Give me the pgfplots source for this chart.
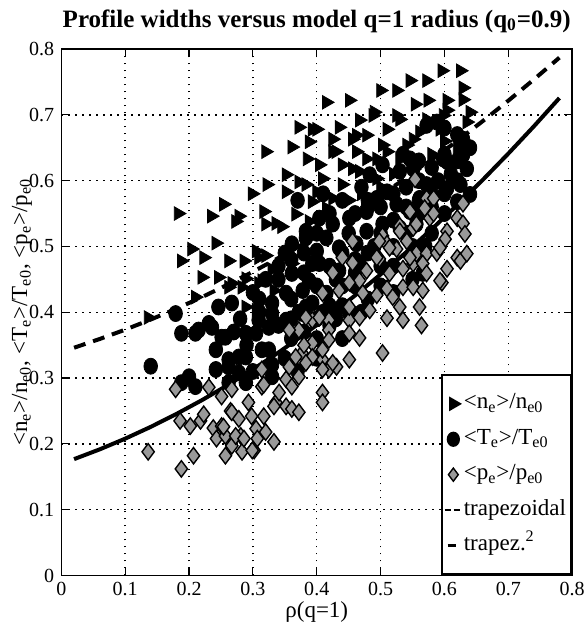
\documentclass[border=0pt]{standalone}
\usepackage{fontspec}
\setmainfont{Liberation Serif}
\usepackage{pgfplots}
\pgfplotsset{compat=1.18}
\pgfplotsset{
  markleg/.style={legend image code/.code={\draw[##1, mark size=3.3pt] plot coordinates {(0.18cm,0cm)};}},
  dashleg/.style={legend image code/.code={\draw[black, line width=1.1pt, dash pattern=on 3pt off 1.4pt] (0.8pt,0pt) -- (8.2pt,0pt);}},
  solidleg/.style={legend image code/.code={\draw[black, line width=1.1pt] (2.2pt,0pt) -- (6.2pt,0pt);}},
}
\begin{document}
\begin{tikzpicture}
\begin{axis}[
  scale only axis, width=255.4pt, height=263.2pt,
  xmin=0, xmax=0.8, ymin=0, ymax=0.8,
  xtick={0,0.1,0.2,0.3,0.4,0.5,0.6,0.7,0.8},
  ytick={0,0.1,0.2,0.3,0.4,0.5,0.6,0.7,0.8},
  xticklabels={0,0.1,0.2,0.3,0.4,0.5,0.6,0.7,0.8},
  yticklabels={0,0.1,0.2,0.3,0.4,0.5,0.6,0.7,0.8},
  /pgf/number format/assume math mode=true,
  ticklabel style={font=\fontsize{10}{12}\selectfont},
  tick align=inside, major tick length=4pt,
  tick style={black, line width=0.6pt},
  axis line style={line width=0.8pt},
  grid=major,
  major grid style={black, line width=0.7pt, dash pattern=on 0.7pt off 2.8pt},
  title={Profile widths versus model q=1 radius (q\textsubscript{0}=0.9)},
  title style={font=\fontsize{12.5}{14}\selectfont\bfseries, at={(axis description cs:0.5,1)}, anchor=base, yshift=5pt},
  xlabel={ρ(q=1)},
  xlabel style={font=\fontsize{11.5}{14}\selectfont, at={(axis description cs:0.5,-0.069)}, anchor=center},
  ylabel={<n\textsubscript{e}>/n\textsubscript{e0}, <T\textsubscript{e}>/T\textsubscript{e0}, <p\textsubscript{e}>/p\textsubscript{e0}},
  ylabel style={font=\fontsize{11.5}{14}\selectfont, at={(axis description cs:-0.077,0.5)}, anchor=center},
  legend style={at={(1,0)}, anchor=south east, draw=black, line width=1pt, fill=white,
    font=\fontsize{11.5}{14}\selectfont, inner xsep=1pt, inner ysep=8pt, row sep=4.7pt,
    nodes={text height=8pt, text depth=3pt, inner ysep=1pt, inner xsep=1.6pt},
    cells={anchor=west}},
  legend cell align=left,
]
% <n_e>/n_e0 : right-pointing triangles
\addplot[only marks, mark=triangle*, mark size=3.9pt, mark options={rotate=-90, fill=black, draw=black}, markleg]
coordinates {
(0.32,0.644)(0.322,0.594)(0.299,0.58)(0.183,0.55)(0.254,0.564)(0.235,0.546)(0.278,0.546)(0.317,0.553)
(0.372,0.681)(0.393,0.678)(0.361,0.651)(0.388,0.659)(0.385,0.633)(0.352,0.609)(0.372,0.598)
(0.273,0.538)(0.336,0.535)(0.242,0.505)(0.204,0.496)(0.188,0.478)(0.223,0.483)(0.262,0.478)(0.286,0.478)
(0.309,0.483)(0.22,0.453)(0.246,0.453)(0.267,0.444)(0.289,0.451)(0.309,0.444)(0.136,0.392)(0.21,0.423)
(0.33,0.465)(0.361,0.474)(0.262,0.438)(0.283,0.438)(0.305,0.493)(0.32,0.486)(0.314,0.448)(0.333,0.433)
(0.305,0.403)(0.289,0.408)(0.32,0.534)(0.345,0.53)
(0.625,0.767)(0.596,0.767)(0.572,0.752)(0.546,0.752)(0.525,0.737)(0.5,0.737)(0.451,0.722)(0.415,0.719)
(0.629,0.741)(0.629,0.723)(0.604,0.722)(0.574,0.722)(0.554,0.716)(0.64,0.704)(0.604,0.707)(0.49,0.704)
(0.467,0.692)(0.435,0.681)(0.53,0.693)(0.51,0.678)(0.478,0.669)(0.456,0.663)(0.425,0.663)(0.425,0.644)
(0.462,0.644)(0.503,0.654)(0.561,0.674)(0.593,0.678)(0.572,0.693)(0.404,0.624)(0.44,0.624)(0.467,0.614)
(0.409,0.603)(0.383,0.594)(0.393,0.568)(0.415,0.558)(0.388,0.538)(0.44,0.594)(0.494,0.633)(0.53,0.633)
(0.551,0.663)(0.494,0.603)(0.635,0.689)(0.352,0.583)(0.367,0.549)(0.4,0.583)(0.425,0.573)(0.456,0.618)
(0.478,0.633)(0.51,0.644)(0.541,0.654)(0.4,0.678)(0.43,0.644)(0.462,0.669)(0.488,0.699)(0.525,0.699)
(0.598,0.699)(0.45,0.57)(0.47,0.58)(0.5,0.59)(0.52,0.61)(0.55,0.62)(0.58,0.64)(0.6,0.66)(0.62,0.65)
};
\addlegendentry{<n\textsubscript{e}>/n\textsubscript{e0}}
% <T_e>/T_e0 : filled circles
\addplot[only marks, mark=*, mark size=4pt, mark options={xscale=0.85, fill=black, draw=black}, markleg]
coordinates {
(0.14,0.318)(0.179,0.398)(0.188,0.368)(0.21,0.368)(0.231,0.383)(0.246,0.408)(0.267,0.414)(0.257,0.362)
(0.242,0.343)(0.262,0.328)(0.242,0.313)(0.289,0.332)(0.305,0.368)(0.325,0.377)(0.325,0.343)(0.278,0.308)
(0.2,0.302)(0.188,0.293)(0.21,0.287)(0.215,0.373)(0.236,0.377)(0.251,0.362)(0.262,0.317)(0.278,0.332)
(0.262,0.293)(0.289,0.293)(0.309,0.388)(0.33,0.398)(0.289,0.368)(0.314,0.343)(0.33,0.302)(0.352,0.388)
(0.372,0.4)
(0.629,0.663)(0.629,0.639)(0.635,0.618)(0.625,0.594)(0.604,0.629)(0.588,0.689)(0.64,0.579)(0.604,0.588)
(0.62,0.568)(0.572,0.594)(0.561,0.573)(0.546,0.553)(0.525,0.564)(0.51,0.583)(0.494,0.573)(0.478,0.553)
(0.451,0.543)(0.425,0.534)(0.404,0.543)(0.383,0.523)(0.415,0.513)(0.435,0.498)(0.462,0.504)(0.478,0.523)
(0.503,0.534)(0.53,0.528)(0.556,0.534)(0.467,0.474)(0.435,0.463)(0.404,0.474)(0.388,0.448)(0.415,0.429)
(0.393,0.414)(0.378,0.398)(0.503,0.624)(0.483,0.609)(0.53,0.614)(0.546,0.633)(0.361,0.459)(0.378,0.433)
(0.352,0.429)(0.33,0.414)(0.383,0.408)(0.393,0.474)(0.361,0.504)(0.383,0.513)(0.4,0.493)(0.598,0.633)
(0.572,0.684)(0.551,0.618)(0.535,0.64)
(0.45,0.52)(0.49,0.5)(0.52,0.5)(0.55,0.5)(0.58,0.52)(0.6,0.55)(0.43,0.45)(0.46,0.44)(0.5,0.47)(0.44,0.41)
(0.48,0.42)(0.42,0.38)(0.4,0.36)(0.44,0.36)(0.36,0.36)(0.35,0.33)(0.37,0.31)(0.4,0.33)(0.58,0.56)(0.59,0.6)
(0.61,0.61)(0.56,0.6)(0.52,0.58)(0.47,0.59)(0.44,0.57)(0.41,0.58)(0.37,0.57)(0.35,0.49)(0.34,0.45)(0.31,0.42)
(0.28,0.39)(0.3,0.31)(0.33,0.32)(0.47,0.4)(0.52,0.43)(0.55,0.45)(0.57,0.5)(0.566,0.459)
(0.36,0.42)(0.38,0.46)(0.4,0.44)(0.42,0.47)(0.44,0.49)(0.46,0.48)(0.48,0.49)(0.5,0.52)(0.52,0.54)(0.54,0.56)
(0.56,0.55)(0.48,0.56)(0.46,0.55)(0.42,0.55)(0.4,0.52)(0.38,0.49)(0.36,0.48)(0.34,0.47)(0.32,0.45)(0.3,0.43)
(0.34,0.38)(0.36,0.39)(0.38,0.37)(0.4,0.39)(0.42,0.41)(0.44,0.44)(0.46,0.46)(0.5,0.44)(0.52,0.47)(0.54,0.52)
(0.56,0.57)(0.58,0.58)(0.6,0.58)(0.62,0.6)(0.6,0.64)(0.58,0.62)(0.56,0.63)(0.54,0.59)(0.5,0.56)(0.48,0.57)
(0.62,0.63)(0.64,0.65)(0.6,0.68)(0.62,0.67)(0.43,0.39)(0.45,0.4)(0.41,0.4)(0.29,0.35)(0.27,0.37)(0.31,0.4)
};
\addlegendentry{<T\textsubscript{e}>/T\textsubscript{e0}}
% <p_e>/p_e0 : grey diamonds
\addplot[only marks, mark=diamond*, mark size=4.1pt, mark options={fill=black!40, draw=black, line width=0.7pt}, markleg]
coordinates {
(0.136,0.188)(0.188,0.162)(0.207,0.182)(0.179,0.283)(0.186,0.235)(0.202,0.227)(0.218,0.235)(0.223,0.245)
(0.231,0.286)(0.251,0.272)(0.267,0.283)(0.265,0.25)(0.238,0.224)(0.251,0.227)(0.243,0.208)(0.257,0.212)
(0.257,0.182)(0.267,0.197)(0.283,0.188)(0.281,0.212)(0.293,0.263)(0.298,0.242)(0.305,0.223)(0.302,0.19)
(0.317,0.242)(0.32,0.218)(0.333,0.203)(0.314,0.313)(0.314,0.287)(0.336,0.263)(0.352,0.257)(0.341,0.278)
(0.352,0.298)(0.357,0.317)(0.361,0.287)(0.372,0.302)(0.361,0.253)(0.372,0.248)(0.377,0.338)(0.393,0.353)
(0.372,0.373)(0.409,0.328)(0.419,0.313)(0.409,0.278)(0.409,0.263)(0.431,0.317)(0.451,0.328)(0.451,0.388)
(0.451,0.408)(0.419,0.388)(0.393,0.388)(0.357,0.373)
(0.254,0.226)(0.273,0.212)(0.267,0.248)(0.278,0.238)(0.286,0.208)(0.299,0.19)(0.307,0.208)(0.333,0.257)
(0.317,0.29)
(0.62,0.543)(0.604,0.523)(0.577,0.543)(0.551,0.528)(0.53,0.531)(0.503,0.516)(0.51,0.504)(0.525,0.496)
(0.541,0.508)(0.456,0.508)(0.44,0.483)(0.456,0.475)(0.478,0.463)(0.498,0.481)(0.514,0.459)(0.535,0.466)
(0.551,0.474)(0.556,0.489)(0.572,0.489)(0.588,0.49)(0.604,0.466)(0.596,0.445)(0.62,0.483)(0.425,0.46)
(0.467,0.448)(0.451,0.445)(0.472,0.429)(0.494,0.426)(0.51,0.436)(0.519,0.423)(0.535,0.438)(0.551,0.438)
(0.566,0.433)(0.53,0.408)(0.561,0.408)(0.535,0.388)(0.564,0.38)(0.51,0.391)(0.483,0.403)(0.467,0.392)
(0.451,0.368)(0.467,0.361)(0.419,0.373)(0.419,0.358)(0.404,0.392)(0.38,0.35)(0.409,0.343)(0.425,0.323)
(0.393,0.332)(0.383,0.323)(0.367,0.332)(0.409,0.313)(0.503,0.338)(0.409,0.429)(0.435,0.433)(0.593,0.448)
(0.383,0.392)
(0.554,0.602)(0.572,0.573)(0.583,0.573)(0.546,0.553)(0.569,0.558)(0.583,0.55)(0.629,0.565)(0.629,0.535)
(0.632,0.519)(0.601,0.511)(0.593,0.498)(0.625,0.478)(0.635,0.489)(0.556,0.534)(0.53,0.523)(0.498,0.508)
(0.494,0.483)(0.514,0.498)(0.566,0.474)(0.546,0.483)(0.572,0.459)
};
\addlegendentry{<p\textsubscript{e}>/p\textsubscript{e0}}
% trapezoidal (dashed)
\addplot[black, line width=2pt, dash pattern=on 6pt off 4pt, dashleg]
coordinates {
(0.02,0.3461)(0.06,0.3593)(0.10,0.3735)(0.14,0.3889)(0.18,0.4053)(0.22,0.4229)(0.26,0.4417)(0.30,0.4615)
(0.34,0.4825)(0.38,0.5045)(0.42,0.5277)(0.46,0.5521)(0.50,0.5775)(0.54,0.6041)(0.58,0.6317)(0.62,0.6605)
(0.66,0.6905)(0.70,0.7215)(0.74,0.7537)(0.78,0.7869)
};
\addlegendentry{trapezoidal}
% trapez.^2 (solid)
\addplot[black, line width=2pt, solidleg]
coordinates {
(0.02,0.1768)(0.06,0.1916)(0.10,0.2079)(0.14,0.2258)(0.18,0.2453)(0.22,0.2663)(0.26,0.2889)(0.30,0.3131)
(0.34,0.3388)(0.38,0.3662)(0.42,0.395)(0.46,0.4255)(0.50,0.4575)(0.54,0.4911)(0.58,0.5262)(0.62,0.563)
(0.66,0.6012)(0.70,0.6411)(0.74,0.6825)(0.78,0.7255)
};
\addlegendentry{trapez.\textsuperscript{2}}
\end{axis}
\pgfresetboundingbox
\path[use as bounding box] ([shift={(-30.65pt,-25.25pt)}]current axis.south west) rectangle ([shift={(6pt,24.5pt)}]current axis.north east);
\end{tikzpicture}
\end{document}
